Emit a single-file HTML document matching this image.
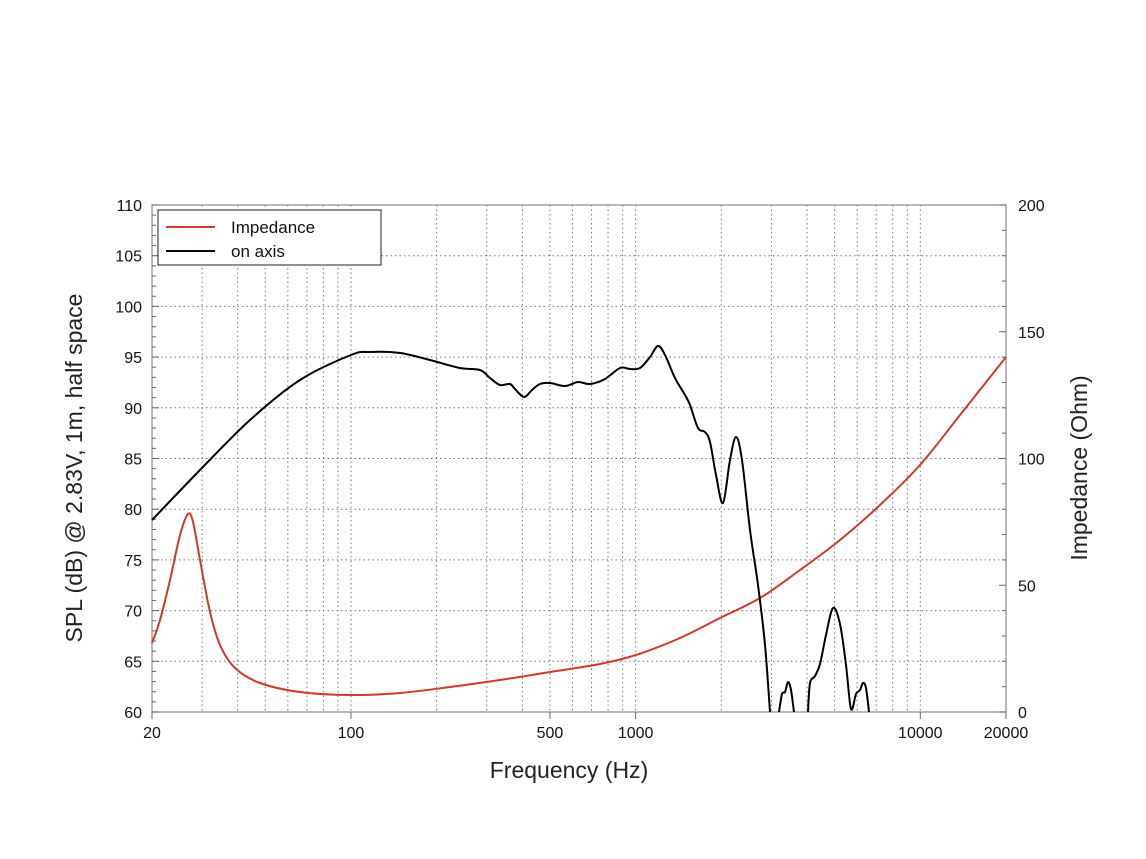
<!DOCTYPE html>
<html><head><meta charset="utf-8"><style>
html,body{margin:0;padding:0;background:#fff;}
svg{display:block;font-family:"Liberation Sans",sans-serif;}
</style></head><body>
<svg id="s" width="1146" height="859" viewBox="0 0 1146 859" xmlns="http://www.w3.org/2000/svg"></svg>
<script>
const s=document.getElementById('s');const NS='http://www.w3.org/2000/svg';
function el(t,a,txt){const e=document.createElementNS(NS,t);for(const k in a)e.setAttribute(k,a[k]);if(txt!==undefined)e.textContent=txt;s.appendChild(e);return e;}
const X0=152,X1=1006,Y0=205,Y1=712;
const fx=f=>X0+(Math.log10(f)-Math.log10(20))*(X1-X0)/3;
const dy=d=>Y1-(d-60)*(Y1-Y0)/50;
// grid
let fs=[];for(let f=30;f<100;f+=10)fs.push(f);for(let f=100;f<=1000;f+=100)fs.push(f);for(let f=2000;f<=10000;f+=1000)fs.push(f);
fs.forEach(f=>{const x=fx(f);el('line',{x1:x,x2:x,y1:Y0,y2:Y1,stroke:'#777','stroke-width':1,'stroke-dasharray':'1.5,3'});});
for(let d=65;d<110;d+=5){const y=dy(d);el('line',{x1:X0,x2:X1,y1:y,y2:y,stroke:'#777','stroke-width':1,'stroke-dasharray':'1.5,3'});}
// frame
el('rect',{x:X0,y:Y0,width:X1-X0,height:Y1-Y0,fill:'none',stroke:'#888','stroke-width':1.2});
// left minor ticks
for(let d=60;d<=110;d++){const y=dy(d);el('line',{x1:X0,x2:X0+(d%5?4:7),y1:y,y2:y,stroke:'#666','stroke-width':1});}
for(let d=60;d<=110;d+=5)el('text',{x:X0-10,y:dy(d)+6,'text-anchor':'end','font-size':16,fill:'#111'},d);
// right ticks
for(let i=0;i<=200;i+=10){const y=Y1-i*(Y1-Y0)/200;el('line',{x1:X1,x2:X1-(i%50?4:7),y1:y,y2:y,stroke:'#666','stroke-width':1});}
for(let i=0;i<=200;i+=50)el('text',{x:X1+12,y:Y1-i*(Y1-Y0)/200+6,'font-size':16,fill:'#111'},i);
// x labels
[[20,'20'],[100,'100'],[500,'500'],[1000,'1000'],[10000,'10000'],[20000,'20000']].forEach(([f,t])=>{el('text',{x:fx(f),y:738,'text-anchor':'middle','font-size':16,fill:'#111'},t);el('line',{x1:fx(f),x2:fx(f),y1:Y1,y2:Y1+7,stroke:'#666'});});
// titles
el('text',{x:569,y:778,'text-anchor':'middle','font-size':23,fill:'#222'},'Frequency (Hz)');
el('text',{x:0,y:0,'text-anchor':'middle','font-size':23,fill:'#222',transform:'translate(82,468) rotate(-90)'},'SPL (dB) @ 2.83V, 1m, half space');
el('text',{x:0,y:0,'text-anchor':'middle','font-size':23,fill:'#222',transform:'translate(1087,468) rotate(-90)'},'Impedance (Ohm)');
function cr(p){let d='M'+p[0][0]+','+p[0][1];for(let i=0;i<p.length-1;i++){const a=p[Math.max(0,i-1)],b=p[i],c=p[i+1],e=p[Math.min(p.length-1,i+2)];d+=' C'+(b[0]+(c[0]-a[0])/6)+','+(b[1]+(c[1]-a[1])/6)+' '+(c[0]-(e[0]-b[0])/6)+','+(c[1]-(e[1]-b[1])/6)+' '+c[0]+','+c[1];}return d;}
const red=[[152,643],[160,620],[170,580],[180,535],[188,514],[193,522],[200,560],[210,612],[220,645],[235,668],[260,683],[300,692],[351,695],[400,693],[450,687],[500,680],[550,672],[600,664],[636,655],[680,638],[720,618],[760,598],[800,570],[840,540],[880,505],[920,465],[960,415],[1006,357]];
el('path',{d:cr(red),fill:'none',stroke:'#d03a2a','stroke-width':2});
const b1=[[152,520],[200,470],[250,420],[300,380],[351,355],[370,352],[400,353],[430,360],[460,368],[480,370],[490,378],[500,385],[510,384],[515,389],[524,397],[532,390],[540,384],[550,383],[565,386],[578,382],[590,384],[605,379],[620,368],[630,369],[640,368],[650,357],[658,346],[665,355],[675,378],[685,395],[690,405],[698,428],[705,432],[710,442],[716,475],[723,503],[730,460],[736,437],[742,460],[750,530],[758,585],[765,645],[770,712]];
const b2=[[779,712],[782,694],[785,692],[788,682],[791,690],[794,712]];
const b3=[[808,712],[810,683],[815,676],[820,664],[826,635],[833,608],[840,624],[846,665],[851,709],[856,694],[860,690],[863,683],[866,688],[869,712]];
[b1,b2,b3].forEach(p=>el('path',{d:cr(p),fill:'none',stroke:'#000','stroke-width':2}));
// legend
el('rect',{x:158,y:210,width:223,height:55,fill:'#fff',stroke:'#222','stroke-width':1});
el('line',{x1:166,x2:215,y1:227,y2:227,stroke:'#d03a2a','stroke-width':2});
el('line',{x1:166,x2:215,y1:251,y2:251,stroke:'#000','stroke-width':2});
el('text',{x:231,y:233,'font-size':17,fill:'#111'},'Impedance');
el('text',{x:231,y:257,'font-size':17,fill:'#111'},'on axis');
</script>
</body></html>
